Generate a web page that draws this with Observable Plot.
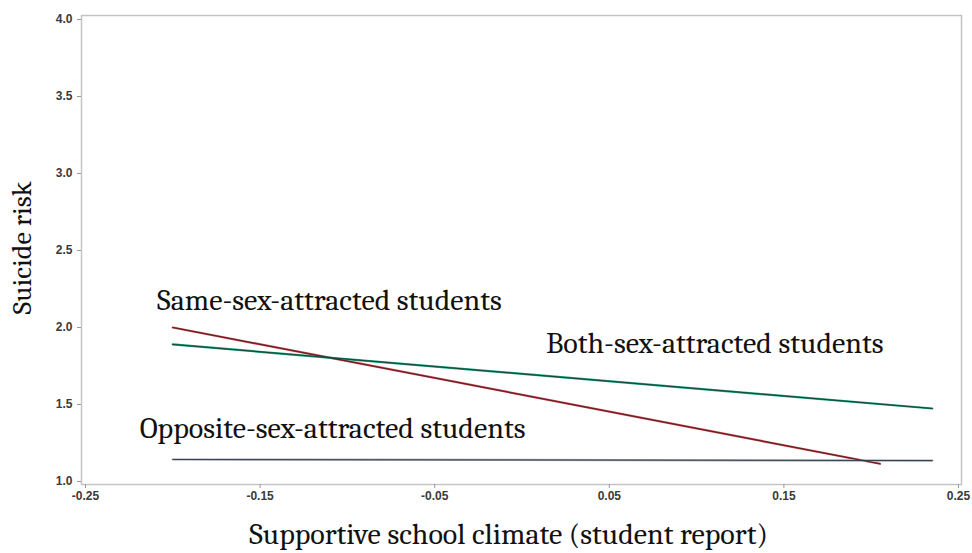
<!DOCTYPE html>
<html><head><meta charset="utf-8">
<script src="https://cdn.jsdelivr.net/npm/d3@7"></script>
<script src="https://cdn.jsdelivr.net/npm/@observablehq/plot@0.6"></script>
<style>body{margin:0;background:#fff} svg{display:block}</style>
</head><body><div id="chart"></div>
<script>
const groups = ["Same-sex-attracted students", "Both-sex-attracted students", "Opposite-sex-attracted students"];
const xStart = [-0.2, -0.2, -0.2];
const xEnd = [0.205, 0.235, 0.235];
const yStart = [2.0, 1.89, 1.143];
const yEnd = [1.115, 1.474, 1.136];
const labelX = [-0.209, 0.0137, -0.219];
const labelY = [2.175, 1.896, 1.344];
const xTicks = [-0.25, -0.15, -0.05, 0.05, 0.15, 0.25];
const yTicks = [1.0, 1.5, 2.0, 2.5, 3.0, 3.5, 4.0];
const outerColors = ["#d0404a", "#1a9a74", "#9aa4b0"];
const innerColors = ["#3a2020", "#163a30", "#2c3644"];

const lines = [];
groups.forEach((g, i) => {
  lines.push({group: g, i, x: xStart[i], y: yStart[i]});
  lines.push({group: g, i, x: xEnd[i], y: yEnd[i]});
});
const labels = groups.map((g, i) => ({text: g, x: labelX[i], y: labelY[i]}));

const serif = "Cambria, 'Liberation Serif', serif";
const sans = "Arial, 'Liberation Sans', sans-serif";

const chart = Plot.plot({
  width: 972,
  height: 553,
  marginLeft: 81,
  marginRight: 11,
  marginTop: 15,
  marginBottom: 69,
  style: {background: "#fff", fontFamily: sans},
  x: {domain: [-0.25, 0.25], insetLeft: 4, insetRight: 3},
  y: {domain: [1.0, 4.0], insetTop: 4, insetBottom: 3},
  marks: [
    Plot.frame({stroke: "#c4c4c4", strokeWidth: 1.5}),
    Plot.axisX({ticks: xTicks, tickFormat: d => d.toFixed(2), tickSize: 4, tickPadding: 3, fontSize: 12, fontWeight: 600, label: null, stroke: "#999", color: "#3a3a3a"}),
    Plot.axisY({ticks: yTicks, tickFormat: d => d.toFixed(1), tickSize: 4, tickPadding: 5, fontSize: 12, fontWeight: 600, label: null, stroke: "#999", color: "#3a3a3a"}),
    Plot.line(lines, {x: "x", y: "y", z: "group", stroke: d => outerColors[d.i], strokeWidth: 2.2}),
    Plot.line(lines, {x: "x", y: "y", z: "group", stroke: d => innerColors[d.i], strokeWidth: 0.9}),
    Plot.text(labels, {x: "x", y: "y", text: "text", textAnchor: "start", fontSize: 30, fontFamily: serif, fill: "#111"}),
    Plot.text(["Suicide risk"], {frameAnchor: "left", textAnchor: "middle", lineAnchor: "middle", rotate: -90, dx: -59, dy: -2, fontSize: 28, fontFamily: serif, fill: "#111"}),
    Plot.text(["Supportive school climate (student report)"], {frameAnchor: "bottom", textAnchor: "middle", lineAnchor: "middle", dx: -13, dy: 50, fontSize: 30, fontFamily: serif, fill: "#111"})
  ]
});
document.getElementById("chart").appendChild(chart);
</script>
</body></html>
